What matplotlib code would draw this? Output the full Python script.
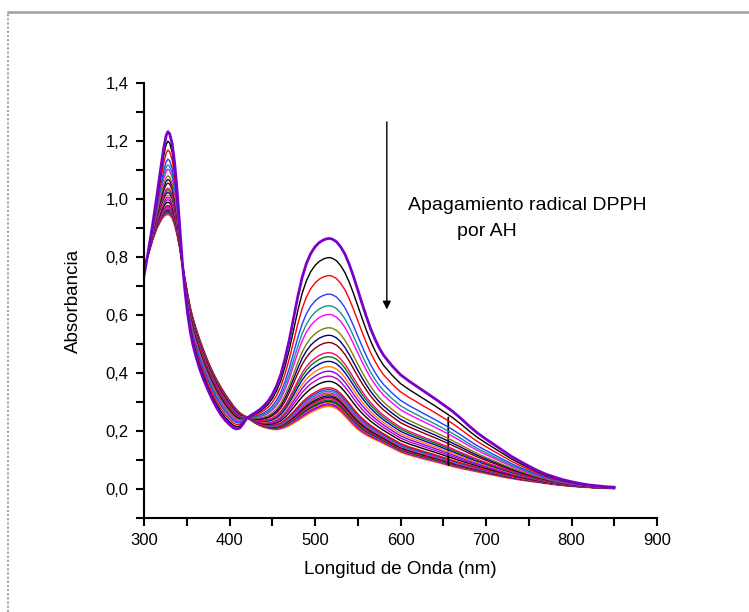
import numpy as np
import matplotlib
matplotlib.use("Agg")
import matplotlib.pyplot as plt
from matplotlib.lines import Line2D
from matplotlib.ticker import MultipleLocator, FuncFormatter

plt.rcParams["font.family"] = ["Liberation Sans", "DejaVu Sans"]

# ---------------------------------------------------------------------------
# datos
# ---------------------------------------------------------------------------
wavelength = [300, 305, 310, 315, 320, 323, 326, 328, 330, 333, 336, 339, 342,
              345, 348, 351, 354, 357, 360, 365, 370, 375, 380, 385, 390, 395,
              400, 404, 408, 412, 416, 420, 425, 430, 435, 440, 445, 450, 455,
              460, 465, 470, 475, 480, 485, 490, 495, 500, 505, 510, 514, 517,
              520, 525, 530, 535, 540, 545, 550, 555, 560, 565, 570, 575, 580,
              590, 600, 610, 620, 630, 640, 650, 660, 670, 680, 690, 700, 710,
              720, 730, 740, 750, 760, 770, 780, 790, 800, 810, 820, 830, 840,
              850]

# espectro inicial (DPPH, curva violeta)
abs_dpph = [0.735, 0.82, 0.91, 1.01, 1.115, 1.175, 1.22, 1.232, 1.225, 1.19,
            1.12, 1.02, 0.895, 0.775, 0.68, 0.605, 0.545, 0.50, 0.465, 0.415,
            0.375, 0.34, 0.308, 0.28, 0.256, 0.237, 0.222, 0.212, 0.207, 0.21,
            0.225, 0.243, 0.254, 0.263, 0.273, 0.286, 0.302, 0.325, 0.355,
            0.395, 0.45, 0.515, 0.59, 0.665, 0.73, 0.778, 0.812, 0.835, 0.85,
            0.859, 0.863, 0.864, 0.862, 0.853, 0.835, 0.81, 0.775, 0.733,
            0.687, 0.64, 0.595, 0.553, 0.518, 0.487, 0.462, 0.425, 0.394,
            0.372, 0.352, 0.332, 0.312, 0.291, 0.27, 0.245, 0.218, 0.193,
            0.172, 0.152, 0.132, 0.112, 0.095, 0.079, 0.064, 0.051, 0.041,
            0.032, 0.025, 0.019, 0.014, 0.011, 0.008, 0.006]

# espectro final (DPPH-H, curva naranja)
abs_final = [0.76, 0.81, 0.86, 0.90, 0.928, 0.94, 0.946, 0.947, 0.945, 0.935,
             0.91, 0.875, 0.83, 0.77, 0.72, 0.67, 0.625, 0.59, 0.56, 0.515,
             0.475, 0.438, 0.405, 0.376, 0.35, 0.326, 0.305, 0.288, 0.274,
             0.262, 0.254, 0.248, 0.238, 0.228, 0.22, 0.214, 0.21, 0.207,
             0.206, 0.208, 0.213, 0.22, 0.228, 0.237, 0.247, 0.256, 0.265,
             0.272, 0.279, 0.284, 0.286, 0.286, 0.285, 0.279, 0.268, 0.253,
             0.237, 0.221, 0.207, 0.196, 0.187, 0.179, 0.172, 0.165, 0.158,
             0.143, 0.128, 0.118, 0.110, 0.102, 0.095, 0.087, 0.079, 0.072,
             0.066, 0.060, 0.054, 0.048, 0.042, 0.037, 0.032, 0.028, 0.024,
             0.020, 0.016, 0.013, 0.010, 0.008, 0.006, 0.004, 0.003, 0.002]

# absorbancia a 517 nm de cada espectro registrado (de arriba hacia abajo)
peak_517 = [0.864, 0.798, 0.736, 0.672, 0.632, 0.602, 0.556, 0.530, 0.505,
            0.470, 0.456, 0.440, 0.422, 0.406, 0.389, 0.371, 0.349, 0.343,
            0.337, 0.331, 0.326, 0.321, 0.316, 0.311, 0.306, 0.302, 0.298,
            0.294, 0.290, 0.286]

# salto del detector a 656 nm en un espectro
spike_curve = 15
spike_wl = 656
spike_levels = [0.083, 0.247]

colors = ["#7a00c8", "#000000", "#ff0000", "#1f3fff", "#1a9090", "#ff00ff",
          "#808000", "#000080", "#800000", "#ff0080", "#008000", "#0000c0",
          "#ff8000", "#8000ff", "#c000c0", "#000000"]
cycle = colors[2:]

wl = np.array(wavelength, dtype=float)
a0 = np.array(abs_dpph)
a1 = np.array(abs_final)
p_top, p_bot = peak_517[0], peak_517[-1]

fig = plt.figure(figsize=(7.49, 6.12), dpi=100)
ax = fig.add_axes([144 / 749, 94 / 612, 513 / 749, 435 / 612])

n = len(peak_517)
for i in reversed(range(n)):
    # cada espectro como mezcla de los dos extremos (Beer-Lambert)
    frac = (peak_517[i] - p_bot) / (p_top - p_bot)
    y = a1 + frac * (a0 - a1)
    x = wl
    if i == spike_curve:
        k = np.searchsorted(wl, spike_wl)
        yk = np.interp(spike_wl, wl, y)
        x = np.concatenate([wl[:k], [spike_wl] * 4, wl[k:]])
        y = np.concatenate([y[:k], [yk, spike_levels[0], spike_levels[1], yk], y[k:]])
    if i == 0:
        c, lw = colors[0], 2.0
    elif i == n - 1:
        c, lw = "#ff8000", 1.6
    elif i < len(colors):
        c, lw = colors[i], 1.0
    else:
        c, lw = cycle[(i - len(colors)) % len(cycle)], 1.0
    ax.plot(x, y, color=c, linewidth=lw)

ax.set_xlim(300, 900)
ax.set_ylim(-0.1, 1.4)
for s in ("top", "right"):
    ax.spines[s].set_visible(False)
for s in ("left", "bottom"):
    ax.spines[s].set_linewidth(1.5)

ax.xaxis.set_major_locator(MultipleLocator(100))
ax.xaxis.set_minor_locator(MultipleLocator(50))
ax.yaxis.set_major_locator(MultipleLocator(0.2))
ax.yaxis.set_minor_locator(MultipleLocator(0.1))
ax.yaxis.set_major_formatter(FuncFormatter(lambda v, p: f"{v:.1f}".replace(".", ",")))
ax.tick_params(which="major", direction="out", length=6, width=1.5, labelsize=12, pad=5)
ax.tick_params(which="minor", direction="out", length=6, width=1.5)

ax.set_xlabel("Longitud de Onda (nm)", fontsize=13.5)
ax.set_ylabel("Absorbancia", fontsize=13.5)
ax.xaxis.set_label_coords(0.5, -0.10)
ax.yaxis.set_label_coords(-0.12, 0.5)

ax.annotate("", xy=(584, 0.619), xytext=(584, 1.266),
            arrowprops=dict(arrowstyle="-|>", color="black", lw=1.0,
                            mutation_scale=12, shrinkA=0, shrinkB=0))
ax.text(609, 0.979, "Apagamiento radical DPPH", fontsize=14, ha="left", va="center")
ax.text(666, 0.889, "por AH", fontsize=14, ha="left", va="center")

# marco de la página
fig.add_artist(Line2D([8 / 749, 1.0], [1 - 12 / 612, 1 - 12 / 612],
                      color="#a0a0a0", linewidth=1.8, transform=fig.transFigure))
fig.add_artist(Line2D([8 / 749, 8 / 749], [0.0, 1 - 12 / 612],
                      color="#a8a8a8", linewidth=1.5, linestyle=(0, (1, 1)),
                      transform=fig.transFigure))

fig.savefig("out.png", dpi=100)
